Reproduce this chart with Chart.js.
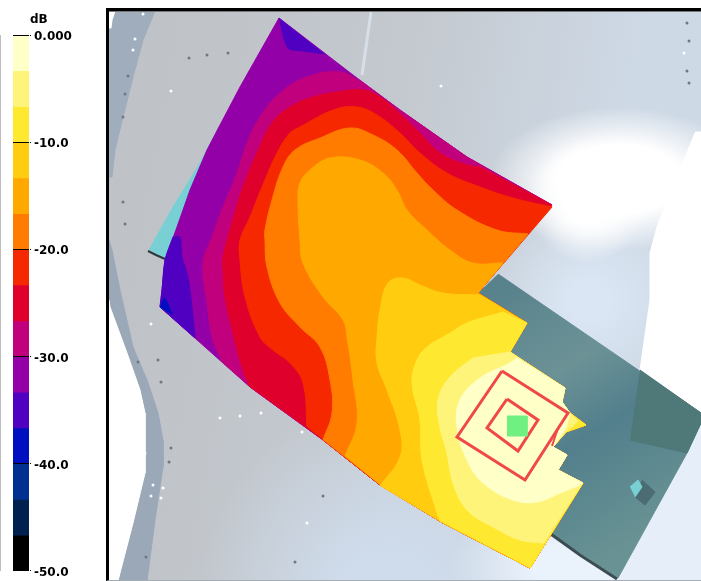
<!DOCTYPE html>
<html lang="en">
<head>
<meta charset="UTF-8" />
<title>Coverage map dB</title>
<script src="https://cdn.jsdelivr.net/npm/chart.js@4"></script>
<style>
    html, body { margin: 0; padding: 0; background: #fff; }
    canvas { display: block; }
    #legendBox { position: absolute; left: 0; top: 0; width: 100px; height: 581px; }
    #unit { position: absolute; left: 30px; top: 12px; font: bold 12px "DejaVu Sans", sans-serif; }
    #frame { position: absolute; z-index: 2; left: 106px; top: 8px; width: 595px; height: 573px; border-left: 3px solid #000; border-top: 3px solid #000; border-bottom: 1px solid #a4acb4; box-shadow: inset 0 1px 0 #777; box-sizing: border-box; }
    #mapBox { position: absolute; left: 109px; top: 11px; width: 592px; height: 570px;
        background:
            radial-gradient(ellipse 60px 62px at 478px 190px, #fff 35%, rgba(255,255,255,0) 100%),
            radial-gradient(ellipse 130px 72px at 510px 168px, #fff 48%, rgba(255,255,255,0) 100%),
            radial-gradient(ellipse 130px 70px at 470px 555px, #eaf2fc 35%, rgba(234,242,252,0) 100%),
            radial-gradient(ellipse 100px 90px at 480px 290px, #dae6f3 20%, rgba(218,230,243,0) 100%),
            radial-gradient(ellipse 190px 200px at 280px 590px, #cfdcec 25%, rgba(207,220,236,0) 100%),
            linear-gradient(100deg, #bfc3c8 10%, #c4c9cf 45%, #ced9e6 78%);
    }
</style>
</head>
<body>
<div id="legendBox"><canvas id="legendChart" width="100" height="581"></canvas></div>
<div id="unit">dB</div>
<div id="frame"></div>
<div id="mapBox"><canvas id="mapChart" width="592" height="570"></canvas></div>

<script>
// colour scale
const bandEdges = [0, -3.33, -6.67, -10, -13.33, -16.67, -20, -23.33, -26.67, -30, -33.33, -36.67, -40, -43.33, -46.67, -50];
const bandColors = ['#ffffc8', '#fff47a', '#ffe830', '#ffcc10', '#ffa800', '#ff7c00', '#f52800', '#e0002c', '#c0007c', '#9400a8', '#5000c0', '#0010c0', '#003090', '#002050', '#000000'];
const tickValues = [0, -10, -20, -30, -40, -50];
const tickLabels = ['0.000', '-10.0', '-20.0', '-30.0', '-40.0', '-50.0'];

// surroundings
const leftStripTop = [[109, 11], [155, 11], [143, 40], [133, 77], [123, 117], [115, 150], [112, 177], [109, 177]];
const leftStripLow = [[109, 240], [112, 250], [120, 290], [133, 347], [147, 380], [158, 413], [163, 440], [163, 467], [155, 520], [147, 581], [118, 581], [120, 573], [133, 523], [145, 473], [145, 413], [140, 390], [127, 353], [110, 307], [109, 300]];
const leftBlank = [[109, 300], [110, 307], [127, 353], [140, 390], [145, 413], [145, 473], [133, 523], [120, 573], [118, 581], [109, 581]];
const cornerBlank = [[109, 11], [115, 11], [112, 20], [111, 28], [109, 28]];
const rightBlank = [[695, 132], [701, 132], [701, 420], [640, 370], [650, 300], [650, 253], [657, 227], [675, 180]];
const lowRightGlow = [[701, 423], [687, 453], [618, 581], [701, 581]];
const lightStreak = [[371, 12], [367, 40], [362, 75]];
const cyanStrip = [[149, 250], [173, 207], [200, 163], [220, 125], [207, 150], [190, 190], [177, 227], [165, 260]];
const darkSpeck = [[148, 251], [156, 255], [165, 259]];
const tealPanel = [[498, 274], [701, 413], [701, 423], [687, 453], [618, 578], [548, 532], [500, 400], [478, 293]];
const tealShade = [[640, 370], [701, 413], [701, 423], [687, 453], [630, 440]];
const tealEdge = [[548, 532], [580, 555], [617, 579]];
const cubeBody = [[642, 480], [655, 492], [645, 505], [635, 497]];
const cubeFace = [[630, 487], [638, 480], [642, 487], [635, 497]];
const whiteDots = [[143, 14], [135, 39], [133, 50], [171, 91], [151, 324], [220, 418], [240, 416], [261, 413], [145, 453], [163, 488], [153, 485], [151, 496], [161, 498], [302, 432], [307, 523], [441, 86], [684, 53]];
const darkDots = [[189, 58], [207, 55], [228, 53], [128, 76], [125, 94], [123, 117], [123, 202], [125, 224], [158, 360], [161, 382], [171, 448], [169, 462], [138, 362], [146, 557], [295, 562], [323, 496], [687, 23], [689, 41], [687, 71], [689, 83]];

// edge of the computed area, clockwise from the top corner
const rim = [[279, 18], [353, 75], [400, 110], [467, 157], [552, 205], [478, 293], [527, 323], [510, 352], [565, 388], [562, 402], [570, 413], [586, 425], [566, 432], [553, 447], [567, 455], [558, 470], [583, 483], [530, 568], [443, 523], [380, 485], [323, 440], [250, 387], [160, 307]];
const rimWest = [[160, 307], [162, 290], [165, 260], [177, 227], [190, 190], [207, 150], [220, 125], [240, 87], [279, 18]];

// contour lines, from where each one leaves the lower edge round to the upper edge
const lineMinus27 = [[223, 363], [213, 340], [207, 303], [203, 263], [212, 237], [223, 207], [237, 173], [247, 143], [260, 117], [280, 93], [307, 77], [340, 72], [362, 82]];
const lineMinus23 = [[250, 387], [242, 367], [233, 333], [225, 297], [223, 270], [223, 257], [232, 223], [243, 187], [257, 153], [272, 123], [290, 107], [310, 98], [337, 92], [363, 90], [380, 97], [398, 112], [420, 133], [440, 153], [467, 165], [480, 167]];
const lineMinus20 = [[307, 427], [303, 383], [290, 363], [273, 350], [260, 337], [245, 297], [240, 260], [240, 240], [250, 217], [262, 187], [277, 153], [290, 133], [300, 127], [333, 110], [357, 107], [377, 115], [400, 133], [420, 153], [447, 173], [480, 187], [513, 198], [552, 207]];
const lineMinus17 = [[323, 440], [332, 413], [330, 380], [320, 347], [300, 327], [280, 303], [267, 267], [265, 240], [265, 230], [272, 200], [283, 167], [295, 150], [320, 138], [350, 128], [373, 135], [397, 150], [417, 173], [433, 190], [457, 210], [497, 230], [528, 234]];
const lineMinus13 = [[345, 456], [357, 423], [353, 380], [347, 337], [343, 320], [323, 297], [303, 263], [300, 240], [298, 200], [300, 183], [310, 170], [330, 158], [360, 160], [383, 173], [397, 190], [407, 210], [427, 230], [450, 250], [473, 263], [503, 263]];
const lineMinus10 = [[380, 486], [400, 457], [400, 430], [387, 390], [377, 363], [377, 337], [380, 310], [388, 283], [403, 278], [420, 285], [443, 293], [480, 295]];
const lineMinus7 = [[440, 521], [437, 513], [422, 460], [420, 420], [412, 383], [417, 360], [427, 347], [450, 333], [467, 323], [503, 312]];
const lineMinus3 = [[544, 543], [520, 540], [493, 527], [467, 510], [453, 483], [447, 453], [440, 427], [438, 400], [450, 377], [473, 358]];
const lineTop = [[580, 485], [560, 493], [537, 502], [513, 500], [483, 483], [467, 460], [457, 427], [460, 400], [480, 378], [508, 364], [517, 358]];

// small pockets along the edge
const pocketTop = [[279, 18], [279, 18], [288, 48], [303, 51], [325, 54], [325, 54]];
const pocketLeft = [[173, 237], [173, 237], [180, 237], [182, 257], [188, 277], [192, 307], [195, 338], [195, 338], [160, 307], [160, 307], [162, 290], [165, 260], [173, 237]];
const pocketBlue = [[163, 298], [166, 300], [172, 314], [160, 307]];

// transmitter and its study boxes
const outerBox = [[502, 371], [568, 413], [525, 480], [457, 437], [502, 371]];
const innerBox = [[507, 399], [538, 420], [518, 451], [487, 428], [507, 399]];
const boxScrawl = [[557, 431], [552, 446]];
const transmitter = [[507, 416], [527, 416], [527, 436], [507, 436]];

// doubling a vertex keeps the corner sharp under the line tension
const sharp = (pts) => pts.flatMap((p) => [p, p]);

function area(data, color, tension = 0) {
    return { data, showLine: true, fill: 'shape', tension, backgroundColor: color, borderColor: color, borderWidth: 1, pointRadius: 0 };
}
function outline(data, color, width) {
    return { data, showLine: true, fill: false, borderColor: color, borderWidth: width, pointRadius: 0 };
}
function dots(data, color, size) {
    return { data, showLine: false, backgroundColor: color, borderWidth: 0, pointRadius: size };
}
function zone(line, edge, color) {
    return area([line[0], ...line, line[line.length - 1], ...sharp(edge)], color, 0.4);
}

new Chart(document.getElementById('legendChart'), {
    type: 'bar',
    data: {
        labels: ['dB'],
        datasets: bandColors.map((c, i) => ({
            data: [[bandEdges[i + 1], bandEdges[i]]],
            backgroundColor: c,
            grouped: false,
            barPercentage: 1,
            categoryPercentage: 1
        }))
    },
    options: {
        responsive: false,
        animation: false,
        layout: { autoPadding: false, padding: { left: 12, top: 35, bottom: 7, right: 0 } },
        plugins: { legend: { display: false }, tooltip: { enabled: false } },
        scales: {
            x: { display: false },
            y: {
                position: 'right',
                min: -50,
                max: 0,
                afterFit: (s) => { s.width = 71; },
                border: { color: '#808080', width: 1 },
                grid: { z: 1, color: '#000', tickLength: 2, lineWidth: 1 },
                ticks: {
                    stepSize: 10,
                    padding: 3,
                    labelOffset: 2,
                    color: '#000',
                    autoSkip: false,
                    font: { family: 'DejaVu Sans', size: 12, weight: 'bold' },
                    callback: (v) => tickLabels[tickValues.indexOf(v)]
                }
            },
            yLeft: {
                position: 'left',
                min: -50,
                max: 0,
                afterFit: (s) => { s.width = 1; },
                border: { color: '#333', width: 1 },
                grid: { display: false },
                ticks: { display: false }
            }
        }
    }
});

const mapCanvas = document.getElementById('mapChart');
const tealFill = mapCanvas.getContext('2d').createLinearGradient(390, 280, 540, 520);
tealFill.addColorStop(0, '#58828c');
tealFill.addColorStop(0.35, '#6c9296');
tealFill.addColorStop(0.6, '#527f8c');
tealFill.addColorStop(1, '#689293');

new Chart(mapCanvas, {
    type: 'scatter',
    data: {
        datasets: [
            // the first dataset ends up on top, so this runs from top layer to bottom layer
            dots(whiteDots, '#ffffff', 1.5),
            dots(darkDots, '#70787f', 1.5),
            outline(boxScrawl, '#f04848', 2),
            area(transmitter, '#70f080'),
            outline(innerBox, '#f04848', 3),
            outline(outerBox, '#f04848', 3),
            zone(lineTop, [...rim.slice(8, 11), [566, 428], ...rim.slice(13, 17)], bandColors[0]),
            zone(lineMinus3, [...rim.slice(7, 11), [578, 421], ...rim.slice(12, 17)], bandColors[1]),
            zone(lineMinus7, rim.slice(6, 18), bandColors[2]),
            zone(lineMinus10, rim.slice(6, 19), bandColors[3]),
            zone(lineMinus13, rim.slice(5, 20), bandColors[4]),
            zone(lineMinus17, rim.slice(5, 20), bandColors[5]),
            zone(lineMinus20, rim.slice(5, 21), bandColors[6]),
            zone(lineMinus23, rim.slice(4, 21), bandColors[7]),
            zone(lineMinus27, rim.slice(2, 22), bandColors[8]),
            area(pocketBlue, bandColors[11]),
            area(pocketLeft, bandColors[10], 0.3),
            area(pocketTop, bandColors[10], 0.3),
            area([...rim, ...rimWest], bandColors[9]),
            outline(darkSpeck, '#30383c', 2),
            area(cyanStrip, '#78d0d4'),
            area(cubeFace, '#78d0d4'),
            area(cubeBody, '#4a6c72'),
            outline(tealEdge, '#3c4c52', 3),
            area(tealShade, '#4f7878'),
            area(tealPanel, tealFill),
            outline(lightStreak, '#d6dee8', 3),
            area(lowRightGlow, '#e6eefa'),
            area(rightBlank, '#ffffff'),
            area(cornerBlank, '#ffffff'),
            area(leftBlank, '#ffffff'),
            area(leftStripLow, '#9aa8b8'),
            area(leftStripTop, '#9fadbd')
        ]
    },
    options: {
        responsive: false,
        animation: false,
        layout: { autoPadding: false, padding: 0 },
        plugins: { legend: { display: false }, tooltip: { enabled: false } },
        scales: {
            x: { type: 'linear', display: false, min: 109, max: 701 },
            y: { type: 'linear', display: false, min: 11, max: 581, reverse: true }
        }
    }
});
</script>
</body>
</html>
